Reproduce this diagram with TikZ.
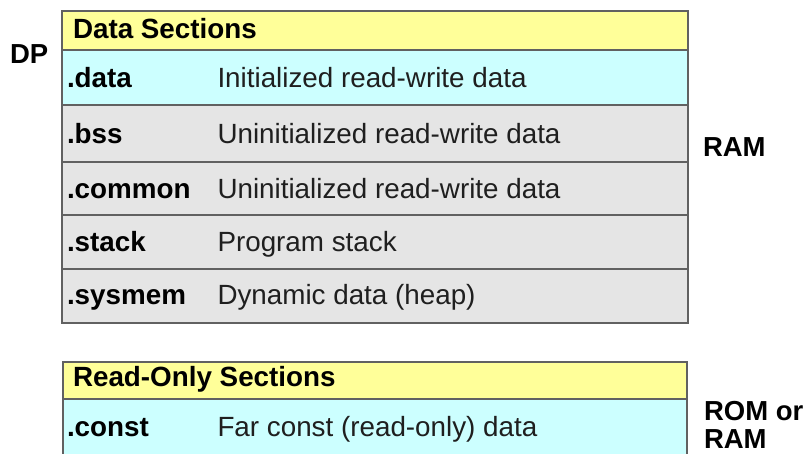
\documentclass[tikz,border=0pt]{standalone}
\usepackage{fontspec}
\setmainfont{Liberation Sans}
\begin{document}
\begin{tikzpicture}[x=1pt,y=-1pt,
  cell/.style={draw=black!62,line width=1.8pt,rectangle,inner sep=0pt,outer sep=0pt},
  head/.style={cell,fill=hdyellow},
  cyanrow/.style={cell,fill=rowcyan},
  grayrow/.style={cell,fill=rowgray},
  txt/.style={anchor=base west,inner sep=0pt,outer sep=0pt,text=black!88,font=\fontsize{27.8}{28}\selectfont},
  btxt/.style={txt,text=black,font=\fontsize{27.8}{28}\selectfont\bfseries},
  side/.style={btxt,font=\fontsize{27.5}{28}\selectfont\bfseries}]
\definecolor{hdyellow}{HTML}{FFFF99}
\definecolor{rowcyan}{HTML}{CCFFFF}
\definecolor{rowgray}{HTML}{E5E5E5}
\useasboundingbox (0,0) rectangle (805,453);
\begin{scope}
\clip (0,0) rectangle (805,453);
% data sections table
\path[head]     (62,11)  rectangle (688,50);
\path[cyanrow]  (62,50)  rectangle (688,105);
\path[grayrow]  (62,105) rectangle (688,162);
\path[grayrow]  (62,162) rectangle (688,215);
\path[grayrow]  (62,215) rectangle (688,269);
\path[grayrow]  (62,269) rectangle (688,323);
% read-only sections table
\path[head]     (63,362) rectangle (687,399);
\path[cyanrow]  (63,399) rectangle (687,458);
\end{scope}
% table headers
\node[btxt] (hdata) at (73,38.3) {Data Sections};
\node[btxt] (hro)   at (73,386)  {Read-Only Sections};
% section names
\node[btxt] (sdata)   at (67,87.3)  {.data};
\node[btxt] (sbss)    at (67,143.3) {.bss};
\node[btxt] (scommon) at (67,198.3) {.common};
\node[btxt] (sstack)  at (67,251.7) {.stack};
\node[btxt] (ssysmem) at (67,304.5) {.sysmem};
\node[btxt] (sconst)  at (67,436)   {.const};
% descriptions
\node[txt] (ddata)   at (217.5,87.3)  {Initialized read-write data};
\node[txt] (dbss)    at (217.5,143.3) {Uninitialized read-write data};
\node[txt] (dcommon) at (217.5,198.3) {Uninitialized read-write data};
\node[txt] (dstack)  at (217.5,251.7) {Program stack};
\node[txt] (dsysmem) at (217.5,304.5) {Dynamic data (heap)};
\node[txt] (dconst)  at (217.5,436)   {Far const (read-only) data};
% memory labels
\node[side] (dp)  at (10,63)    {DP};
\node[side] (ram) at (703,156.7) {RAM};
\node[side] (rom) at (704,420)  {ROM or};
\node[side] (rom2) at (704,448.3) {RAM};
\end{tikzpicture}
\end{document}
